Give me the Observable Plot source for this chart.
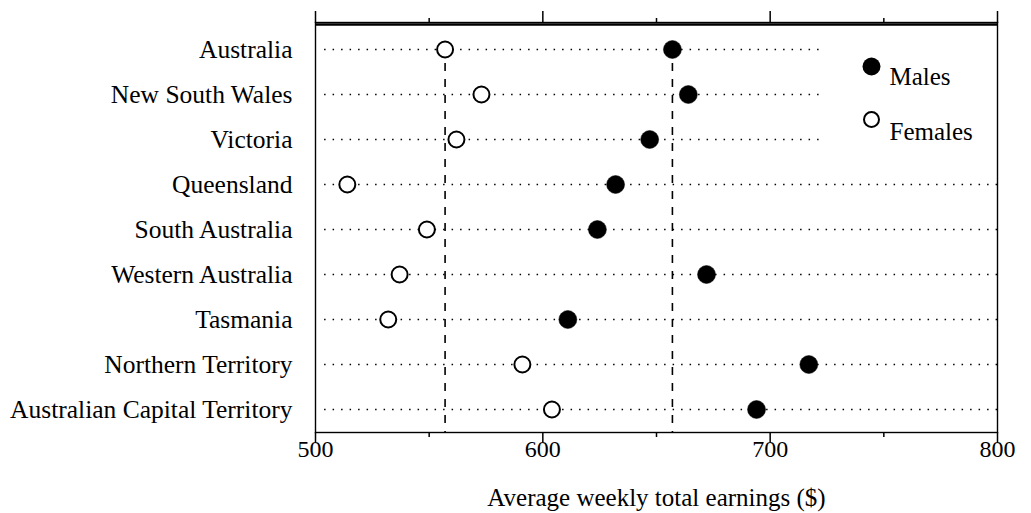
<!DOCTYPE html>
<html>
<head>
<meta charset="utf-8">
<script src="https://cdn.jsdelivr.net/npm/d3@7"></script>
<script src="https://cdn.jsdelivr.net/npm/@observablehq/plot@0.6"></script>
<style>
  html, body { margin: 0; padding: 0; background: #fff; }
  #chart { position: relative; width: 1031px; height: 513px; }
</style>
</head>
<body>
<div id="chart"></div>
<script>
const regions = [
  "Australia", "New South Wales", "Victoria", "Queensland", "South Australia",
  "Western Australia", "Tasmania", "Northern Territory", "Australian Capital Territory"
];
const females = [557, 573, 562, 514, 549, 537, 532, 591, 604];
const males   = [657, 664, 647, 632, 624, 672, 611, 717, 694];
const referenceLines = [557, 657]; // Australia averages
const guideStart = 504;
const guideEnd = [722, 722, 722, 800, 800, 800, 800, 800, 800];
const xTicks = [500, 600, 700, 800];
const xMinorTicks = [550, 650, 750];
const seriesNames = ["Males", "Females"];
const xTitle = "Average weekly total earnings ($)";

const rows = regions.map((r, i) => ({region: r, female: females[i], male: males[i], end: guideEnd[i]}));

const font = "'Liberation Serif', 'Times New Roman', serif";

const plot = Plot.plot({
  width: 1031,
  height: 513,
  marginLeft: 315,
  marginRight: 34,
  marginTop: 22,
  marginBottom: 81,
  style: {fontFamily: font, fontSize: "24px", color: "#000", background: "#fff"},
  x: {domain: [500, 800]},
  y: {type: "point", domain: regions, padding: 0, insetTop: 25, insetBottom: 21},
  marks: [
    // dotted row guides
    Plot.ruleY(rows, {y: "region", x1: guideStart, x2: "end", stroke: "#000", strokeWidth: 1.3, strokeDasharray: "1.5,7"}),
    // dashed reference lines
    Plot.ruleX(referenceLines, {x: d => d, insetTop: 25, stroke: "#000", strokeWidth: 1.6, strokeDasharray: "8,8"}),
    // frame
    Plot.frame({stroke: "#000", strokeWidth: 1.4}),
    Plot.ruleY([regions[0]], {y: d => d, dy: -25, stroke: "#000", strokeWidth: 2.5}),
    // axes
    Plot.axisX({anchor: "bottom", ticks: xTicks, tickSize: 10, tickPadding: -3, strokeWidth: 1.5, fontSize: 24, label: null}),
    Plot.axisX({anchor: "bottom", ticks: xMinorTicks, tickSize: 5, tickFormat: () => "", label: null, strokeWidth: 1.5}),
    Plot.axisX({anchor: "top", ticks: xTicks, tickSize: 12, tickFormat: () => "", label: null, strokeWidth: 1.5}),
    Plot.axisX({anchor: "top", ticks: xMinorTicks, tickSize: 5, tickFormat: () => "", label: null, strokeWidth: 1.5}),
    Plot.text([xTitle], {text: d => d, frameAnchor: "bottom", dy: 65, lineAnchor: "middle", fontSize: 25}),
    Plot.axisY({tickSize: 0, tickPadding: 23, fontSize: 25.5, label: null}),
    // data
    Plot.dot(rows, {x: "female", y: "region", r: 8, fill: "#fff", stroke: "#000", strokeWidth: 2}),
    Plot.dot(rows, {x: "male", y: "region", r: 9, fill: "#000", stroke: "#000", strokeWidth: 0.5}),
    // legend
    Plot.dot([seriesNames[0]], {frameAnchor: "top-right", dx: -126, dy: 44, r: 9, fill: "#000"}),
    Plot.dot([seriesNames[1]], {frameAnchor: "top-right", dx: -126, dy: 97, r: 7.5, fill: "#fff", stroke: "#000", strokeWidth: 2}),
    Plot.text([seriesNames[0]], {text: d => d, frameAnchor: "top-right", dx: -108, dy: 54, textAnchor: "start", lineAnchor: "middle", fontSize: 25}),
    Plot.text([seriesNames[1]], {text: d => d, frameAnchor: "top-right", dx: -108, dy: 109, textAnchor: "start", lineAnchor: "middle", fontSize: 25})
  ]
});
document.getElementById("chart").append(plot);
</script>
</body>
</html>
